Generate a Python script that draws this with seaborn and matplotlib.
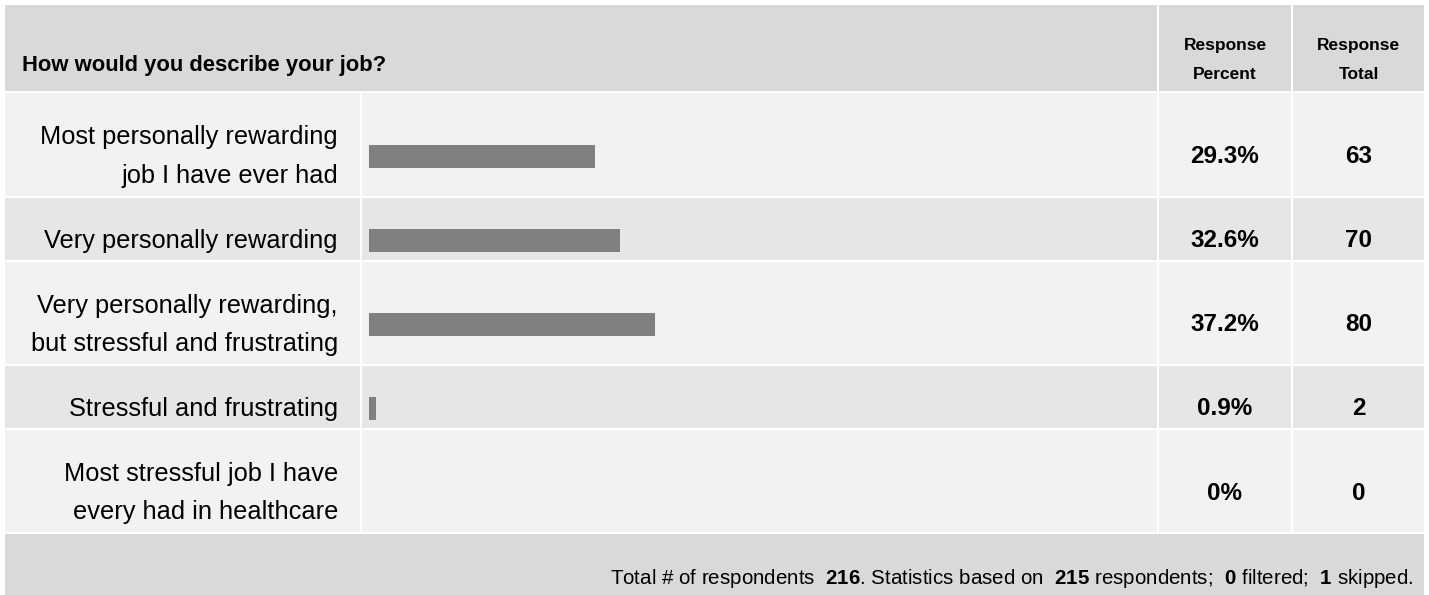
import matplotlib
matplotlib.use("Agg")
import matplotlib.pyplot as plt
import matplotlib.transforms as mtransforms
from matplotlib.patches import Rectangle
import pandas as pd
import seaborn as sns

# ---- data ----
question = "How would you describe your job?"
answers = [
    "Most personally rewarding\njob I have ever had",
    "Very personally rewarding",
    "Very personally rewarding,\nbut stressful and frustrating",
    "Stressful and frustrating",
    "Most stressful job I have\nevery had in healthcare",
]
percent = [29.3, 32.6, 37.2, 0.9, 0.0]
totals = [63, 70, 80, 2, 0]
pct_labels = ["29.3%", "32.6%", "37.2%", "0.9%", "0%"]
n_respondents = 216
n_based = 215
n_filtered = 0
n_skipped = 1

df = pd.DataFrame({"answer": answers, "percent": percent, "total": totals})

# ---- layout (pixels) ----
W, H = 1429, 595
HEADER_BG = "#d9d9d9"
ROW_BG = ["#f2f2f2", "#e6e6e6"]
BAR_COLOR = "#808080"
col_edges = [(5, 360), (362, 1157), (1159, 1291), (1293, 1424)]
header_y = (5, 91)
row_y = [(93, 196), (198, 260), (262, 364), (366, 428), (430, 532)]
footer_y = (534, 595)
bar_x0, bar_x100 = 369, 1139

sns.set_theme(style="white")
plt.rcParams["font.family"] = ["Liberation Sans", "DejaVu Sans"]
plt.rcParams["text.color"] = "black"
plt.rcParams["mathtext.fontset"] = "custom"
plt.rcParams["mathtext.rm"] = "Liberation Sans"
plt.rcParams["mathtext.bf"] = "Liberation Sans:bold"

fig = plt.figure(figsize=(W / 100, H / 100), dpi=100)
fig.patch.set_facecolor("white")

bg = fig.add_axes([0, 0, 1, 1])
bg.set_xlim(0, W)
bg.set_ylim(H, 0)
bg.axis("off")

def cell(x0, x1, y0, y1, color):
    bg.add_patch(Rectangle((x0, y0), x1 - x0, y1 - y0, facecolor=color, edgecolor="none"))

# header
cell(col_edges[0][0], col_edges[1][1], *header_y, HEADER_BG)
cell(*col_edges[2], *header_y, HEADER_BG)
cell(*col_edges[3], *header_y, HEADER_BG)
# rows
for i, (y0, y1) in enumerate(row_y):
    for c in col_edges:
        cell(*c, y0, y1, ROW_BG[i % 2])
# footer
cell(col_edges[0][0], col_edges[3][1], *footer_y, HEADER_BG)

# ---- bar axes: categories spaced to match the row content centers ----
pad = 24
centers = [(y0 + pad + y1) / 2 for y0, y1 in row_y]
step = (centers[-1] - centers[0]) / (len(centers) - 1)
top_px, bot_px = row_y[0][0], row_y[-1][1]
ylim_top = (top_px - centers[0]) / step
ylim_bot = (len(centers) - 1) + (bot_px - centers[-1]) / step

ax = fig.add_axes([bar_x0 / W, 1 - bot_px / H, (bar_x100 - bar_x0) / W, (bot_px - top_px) / H])
sns.barplot(data=df, x="percent", y="answer", orient="h", color=BAR_COLOR,
            width=23 / step, saturation=1, linewidth=0, ax=ax)
ax.set_xlim(0, 100)
ax.set_ylim(ylim_bot, ylim_top)
ax.axis("off")
ax.patch.set_alpha(0)

trans = mtransforms.blended_transform_factory(bg.transData, ax.transData)

for i, row in df.iterrows():
    ax.text(338, i, row["answer"], transform=trans, ha="right", va="center",
            fontsize=18.3, linespacing=1.75)
    ax.text(1225, i, pct_labels[i], transform=trans, ha="center", va="center",
            fontsize=17.5, fontweight="bold")
    ax.text(1358.5, i, str(row["total"]), transform=trans, ha="center", va="center",
            fontsize=17.5, fontweight="bold")

# header texts
bg.text(22, 66, question, ha="left", va="center", fontsize=15.8, fontweight="bold")
bg.text(1225, 60, "Response\nPercent", ha="center", va="center", fontsize=12.5,
        fontweight="bold", linespacing=2.1)
bg.text(1358.5, 60, "Response\nTotal", ha="center", va="center", fontsize=12.5,
        fontweight="bold", linespacing=2.1)

# footer
footer = (f"Total # of respondents  $\\mathbf{{{n_respondents}}}$. Statistics based on  "
          f"$\\mathbf{{{n_based}}}$ respondents;  $\\mathbf{{{n_filtered}}}$ filtered;  "
          f"$\\mathbf{{{n_skipped}}}$ skipped.")
bg.text(1413, 579, footer, ha="right", va="center", fontsize=14.8)

fig.savefig("out.png", dpi=100)
